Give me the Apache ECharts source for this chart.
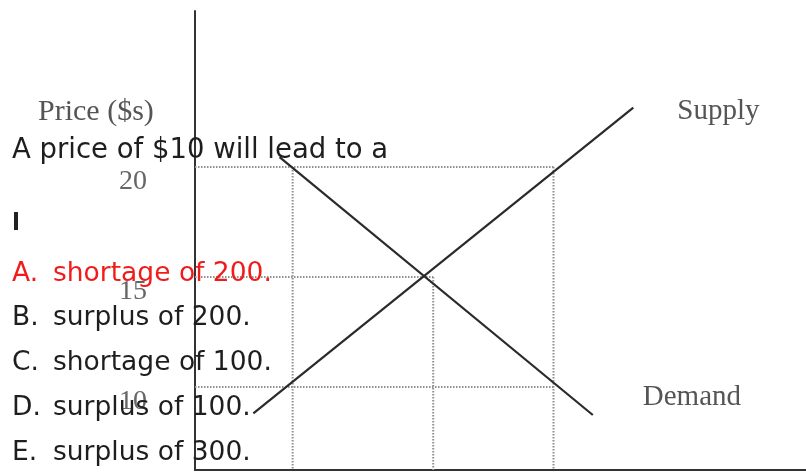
<!DOCTYPE html>
<html>
<head>
<meta charset="utf-8">
<style>html,body{margin:0;padding:0;background:#fff;}#c{width:806px;height:475px;}</style>
<script src="https://cdn.jsdelivr.net/npm/echarts@6/dist/echarts.min.js"></script>
</head>
<body>
<div id="c"></div>
<script>
// ---- data ----
const priceTicks = [10, 15, 20];
const supplyQ = [49, 368];
const supplyP = [8.8, 22.7];
const demandQ = [71, 334];
const demandP = [20.45, 8.73];
const qLow = 82, qEq = 200, qHigh = 301;
const pLow = 10, pEq = 15, pHigh = 20;
const yMin = 6.23, yMax = 27.09;
const xMin = 0, xMax = 513;
const question = 'A price of $10 will lead to a';
const optionLetters = ['A.', 'B.', 'C.', 'D.', 'E.'];
const optionTexts = ['shortage of 200.', 'surplus of 200.', 'shortage of 100.', 'surplus of 100.', 'surplus of 300.'];
const correctIndex = 0;

// ---- build ----
const pairs = (xs, ys) => xs.map((x, i) => [x, ys[i]]);
const guides = [
  [[xMin, pHigh], [qHigh, pHigh]],
  [[xMin, pEq], [qEq, pEq]],
  [[xMin, pLow], [qHigh, pLow]],
  [[qLow, pHigh], [qLow, yMin]],
  [[qEq, pEq], [qEq, yMin]],
  [[qHigh, pHigh], [qHigh, yMin]]
];
const serif = 'Liberation Serif';
const sans = 'DejaVu Sans';
const series = guides.map(g => ({
  type: 'line', data: g, symbol: 'none', silent: true, z: 1,
  lineStyle: { color: '#909090', width: 2, type: [1.5, 1.5] }
}));
series.push({
  name: 'Supply', type: 'line', data: pairs(supplyQ, supplyP), symbol: 'none', z: 3,
  lineStyle: { color: '#2a2a2a', width: 2.2 },
  endLabel: { show: true, formatter: '{a}', distance: 44, offset: [0, 4], color: '#555', fontFamily: serif, fontSize: 29 }
});
series.push({
  name: 'Demand', type: 'line', data: pairs(demandQ, demandP), symbol: 'none', z: 3,
  lineStyle: { color: '#2a2a2a', width: 2.2 },
  endLabel: { show: true, formatter: '{a}', distance: 50, offset: [0, -18], color: '#555', fontFamily: serif, fontSize: 29 }
});

const graphic = [
  { type: 'text', left: 38, top: 97, z: 50, style: { text: 'Price ($s)', font: '30px "' + serif + '"', fill: '#555' } },
  { type: 'text', x: 12, y: 151, z: 100, style: { text: question, font: '27.5px "' + sans + '"', fill: '#1e1e1e', verticalAlign: 'middle' } },
  { type: 'rect', shape: { x: 14, y: 212, width: 4, height: 18 }, z: 100, style: { fill: '#222' } }
];
const rowY = [274, 318, 363, 408, 453];
optionLetters.forEach((l, i) => {
  const col = i === correctIndex ? '#f01c1c' : '#1e1e1e';
  graphic.push({ type: 'text', x: 12, y: rowY[i], z: 100, style: { text: l, font: '26.5px "' + sans + '"', fill: col, verticalAlign: 'middle' } });
  graphic.push({ type: 'text', x: 53, y: rowY[i], z: 100, style: { text: optionTexts[i], font: '26.5px "' + sans + '"', fill: col, verticalAlign: 'middle' } });
});

const chart = echarts.init(document.getElementById('c'), null, { renderer: 'canvas' });
chart.setOption({
  animation: false,
  backgroundColor: '#fff',
  grid: { left: 195, right: 0, top: 11, bottom: 5 },
  xAxis: {
    type: 'value', min: xMin, max: xMax,
    axisLine: { show: true, onZero: false, lineStyle: { color: '#333', width: 2 } },
    axisTick: { show: false }, axisLabel: { show: false }, splitLine: { show: false }
  },
  yAxis: {
    type: 'value', min: yMin, max: yMax,
    axisLine: { show: true, onZero: false, lineStyle: { color: '#333', width: 2 } },
    axisTick: { show: false }, splitLine: { show: false },
    axisLabel: {
      show: true, customValues: priceTicks, margin: 48,
      color: '#666', fontFamily: serif, fontSize: 28,
      verticalAlign: 'top', lineHeight: 30
    }
  },
  series: series,
  graphic: graphic
});
</script>
</body>
</html>
